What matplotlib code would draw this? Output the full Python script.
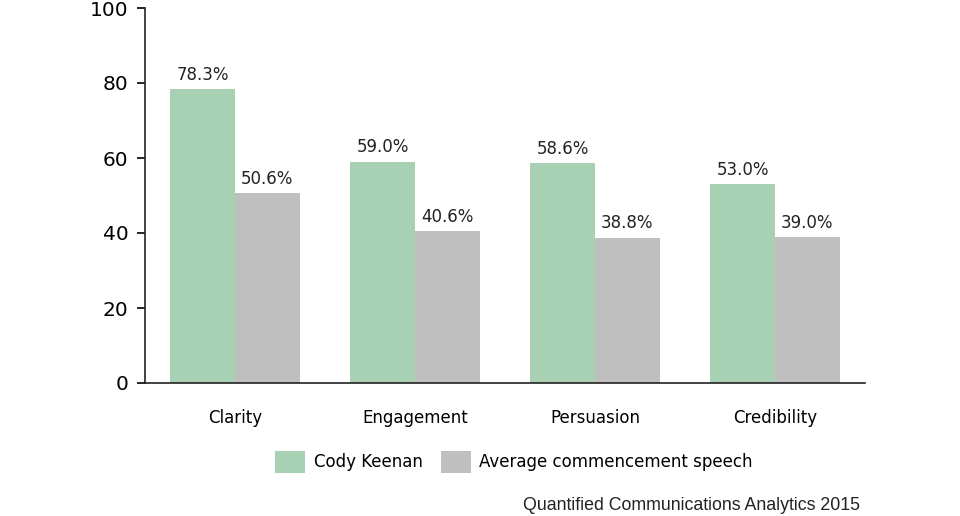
import matplotlib
matplotlib.use("Agg")
import matplotlib.pyplot as plt
from matplotlib.patches import Patch
import numpy as np

categories = ["Clarity", "Engagement", "Persuasion", "Credibility"]
cody = [78.3, 59.0, 58.6, 53.0]
average = [50.6, 40.6, 38.8, 39.0]
series_names = ["Cody Keenan", "Average commencement speech"]
yticks = [0, 20, 40, 60, 80, 100]

green = "#a8d1b3"
gray = "#bfbfbf"

fig = plt.figure(figsize=(9.6, 5.16), dpi=100)
ax = fig.add_axes([145/960, 1-383/516, 720/960, 375/516])

x = np.arange(len(categories))
w = 0.36
ax.bar(x - w/2, cody, w, color=green)
ax.bar(x + w/2, average, w, color=gray)

for xi, v in zip(x - w/2, cody):
    ax.text(xi, v + 1.4, f"{v:.1f}%", ha="center", va="bottom", fontsize=12, color="#222222")
for xi, v in zip(x + w/2, average):
    ax.text(xi, v + 1.4, f"{v:.1f}%", ha="center", va="bottom", fontsize=12, color="#222222")

ax.set_xlim(-0.5, 3.5)
ax.set_ylim(0, 100)
ax.set_yticks(yticks)
ax.set_xticks(x)
ax.set_xticklabels(categories, fontsize=12)
ax.tick_params(axis="x", length=0, pad=19)
ax.tick_params(axis="y", length=6, width=1.2, labelsize=14.5, pad=6)
for s in ["top", "right"]:
    ax.spines[s].set_visible(False)
for s in ["left", "bottom"]:
    ax.spines[s].set_linewidth(1.2)
    ax.spines[s].set_color("#222222")

handles = [Patch(facecolor=green, label=series_names[0]), Patch(facecolor=gray, label=series_names[1])]
fig.legend(handles=handles, loc="center", bbox_to_anchor=(514/960, 1-462/516), ncol=2,
           frameon=False, fontsize=12, handlelength=1.8, handleheight=1.7,
           columnspacing=1.1, handletextpad=0.5)

fig.text(860/960, 1-506/516, "Quantified Communications Analytics 2015", ha="right", va="center",
         fontsize=12.8, family="Liberation Sans", color="#222222")

fig.savefig("out.png", dpi=100, facecolor="white")
